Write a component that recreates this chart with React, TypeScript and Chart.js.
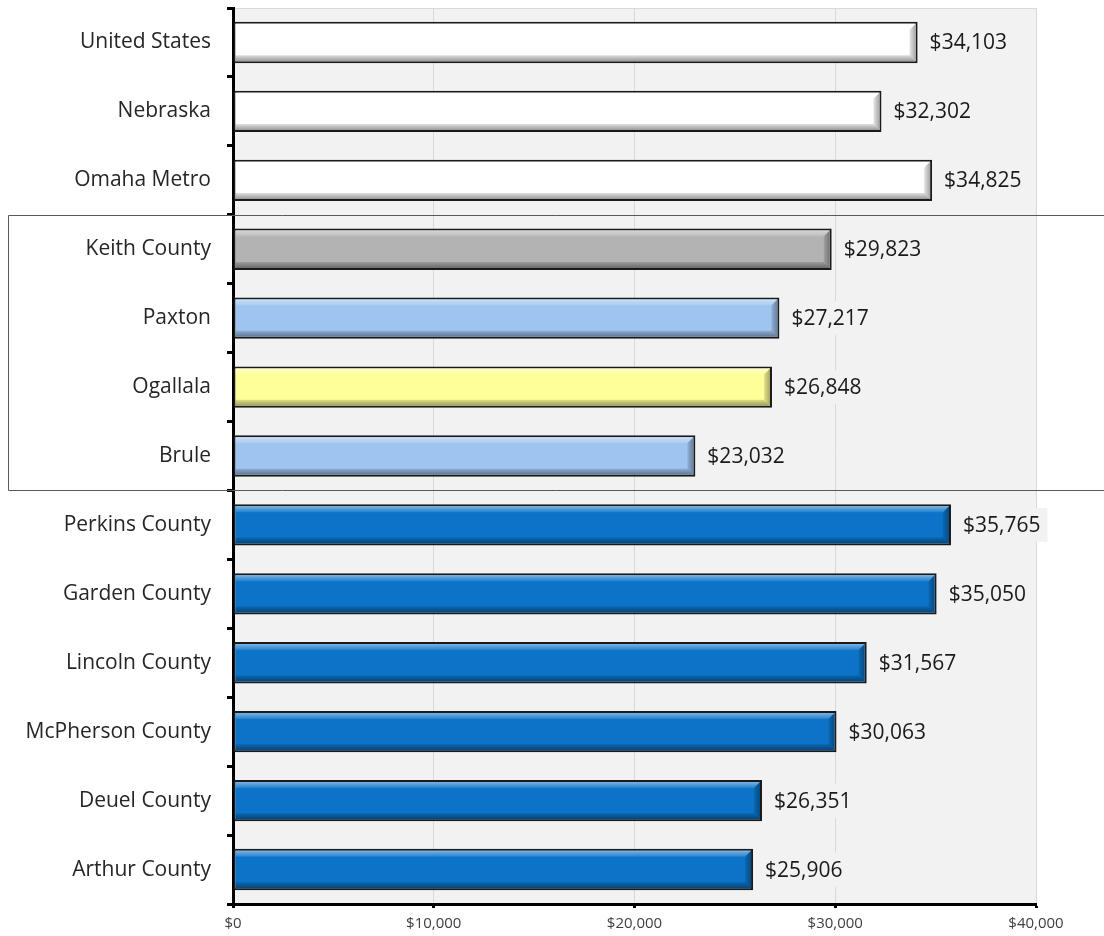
import React, { useEffect, useRef } from "react";
import { Chart, registerables } from "chart.js";

Chart.register(...registerables);

const categories = [
  "United States",
  "Nebraska",
  "Omaha Metro",
  "Keith County",
  "Paxton",
  "Ogallala",
  "Brule",
  "Perkins County",
  "Garden County",
  "Lincoln County",
  "McPherson County",
  "Deuel County",
  "Arthur County",
];

const values = [34103, 32302, 34825, 29823, 27217, 26848, 23032, 35765, 35050, 31567, 30063, 26351, 25906];

const barColors = [
  "#ffffff",
  "#ffffff",
  "#ffffff",
  "#b3b3b3",
  "#9ec4ef",
  "#ffff99",
  "#9ec4ef",
  "#0b73c8",
  "#0b73c8",
  "#0b73c8",
  "#0b73c8",
  "#0b73c8",
  "#0b73c8",
];

const xMin = 0;
const xMax = 40000;
const xStep = 10000;

const highlightFrom = "Keith County";
const highlightTo = "Brule";

const FONT = "'Open Sans', 'DejaVu Sans', sans-serif";

const money = (v: number) => "$" + Math.round(v).toLocaleString("en-US");

const backgroundPlugin = {
  id: "plotBackground",
  beforeDraw(chart: any) {
    const { ctx, chartArea } = chart;
    ctx.save();
    ctx.fillStyle = "#f2f2f2";
    ctx.fillRect(chartArea.left, chartArea.top, chartArea.right - chartArea.left, chartArea.bottom - chartArea.top);
    ctx.strokeStyle = "#d9d9d9";
    ctx.lineWidth = 1;
    ctx.beginPath();
    ctx.moveTo(chartArea.left, chartArea.top + 0.5);
    ctx.lineTo(chartArea.right + 0.5, chartArea.top + 0.5);
    ctx.lineTo(chartArea.right + 0.5, chartArea.bottom);
    ctx.stroke();
    ctx.restore();
  },
};

const bevelPlugin = {
  id: "bevelAndLabels",
  afterDatasetsDraw(chart: any) {
    const { ctx } = chart;
    const meta = chart.getDatasetMeta(0);
    ctx.save();
    meta.data.forEach((el: any, i: number) => {
      const p = el.getProps(["x", "y", "base", "height"], true);
      const bw = 2;
      const x0 = Math.min(p.base, p.x) + bw;
      const x1 = Math.max(p.base, p.x) - bw;
      const yt = p.y - p.height / 2 + bw;
      const yb = p.y + p.height / 2 - bw;
      const b = 6;
      // top highlight
      const gTop = ctx.createLinearGradient(0, yt, 0, yt + b);
      gTop.addColorStop(0, "rgba(255,255,255,0.45)");
      gTop.addColorStop(1, "rgba(255,255,255,0.1)");
      ctx.fillStyle = gTop;
      ctx.beginPath();
      ctx.moveTo(x0, yt);
      ctx.lineTo(x1, yt);
      ctx.lineTo(x1 - b, yt + b);
      ctx.lineTo(x0, yt + b);
      ctx.closePath();
      ctx.fill();
      // bottom shadow
      const gBot = ctx.createLinearGradient(0, yb - b, 0, yb);
      gBot.addColorStop(0, "rgba(0,0,0,0.12)");
      gBot.addColorStop(1, "rgba(0,0,0,0.4)");
      ctx.fillStyle = gBot;
      ctx.beginPath();
      ctx.moveTo(x0, yb);
      ctx.lineTo(x1, yb);
      ctx.lineTo(x1 - b, yb - b);
      ctx.lineTo(x0, yb - b);
      ctx.closePath();
      ctx.fill();
      // right shadow
      const gR = ctx.createLinearGradient(x1 - b, 0, x1, 0);
      gR.addColorStop(0, "rgba(0,0,0,0.1)");
      gR.addColorStop(1, "rgba(0,0,0,0.35)");
      ctx.fillStyle = gR;
      ctx.beginPath();
      ctx.moveTo(x1, yt);
      ctx.lineTo(x1, yb);
      ctx.lineTo(x1 - b, yb - b);
      ctx.lineTo(x1 - b, yt + b);
      ctx.closePath();
      ctx.fill();

      // value label
      const text = money(values[i]);
      ctx.font = `21px ${FONT}`;
      const w = ctx.measureText(text).width;
      const bx = Math.max(p.base, p.x) + 5;
      ctx.fillStyle = "#f2f2f2";
      ctx.fillRect(bx, p.y - 17, w + 14, 34);
      ctx.fillStyle = "#1a1a1a";
      ctx.textAlign = "left";
      ctx.textBaseline = "middle";
      ctx.fillText(text, bx + 7, p.y + 1);
    });
    ctx.restore();
  },
};

const boxPlugin = {
  id: "highlightBox",
  afterDraw(chart: any) {
    const { ctx } = chart;
    const y = chart.scales.y;
    const i0 = categories.indexOf(highlightFrom);
    const i1 = categories.indexOf(highlightTo);
    const half = (y.getPixelForValue(1) - y.getPixelForValue(0)) / 2;
    const top = Math.round(y.getPixelForValue(i0) - half) + 0.5;
    const bottom = Math.round(y.getPixelForValue(i1) + half) + 0.5;
    ctx.save();
    ctx.strokeStyle = "#595959";
    ctx.lineWidth = 1;
    ctx.beginPath();
    ctx.moveTo(chart.width + 2, top);
    ctx.lineTo(8.5, top);
    ctx.lineTo(8.5, bottom);
    ctx.lineTo(chart.width + 2, bottom);
    ctx.stroke();
    ctx.restore();
  },
};

export default function App() {
  const ref = useRef<HTMLCanvasElement | null>(null);

  useEffect(() => {
    if (!ref.current) return;
    const chart = new Chart(ref.current, {
      type: "bar",
      data: {
        labels: categories,
        datasets: [
          {
            data: values,
            backgroundColor: barColors,
            borderColor: "#1a1a1a",
            borderWidth: 2,
            borderSkipped: false,
            barPercentage: 0.6,
            categoryPercentage: 1,
          },
        ],
      },
      options: {
        indexAxis: "y",
        responsive: false,
        animation: false,
        layout: { padding: { top: 8, right: 68, left: 0, bottom: 0 } },
        plugins: {
          legend: { display: false },
          tooltip: { enabled: false },
        },
        scales: {
          x: {
            min: xMin,
            max: xMax,
            ticks: {
              stepSize: xStep,
              callback: (v: any) => money(Number(v)),
              font: { family: FONT, size: 15 },
              color: "#404040",
              padding: 7,
            },
            grid: {
              color: "#d9d9d9",
              lineWidth: 1,
              drawTicks: true,
              tickLength: 4,
              tickColor: "#000000",
              tickWidth: 3,
            },
            border: { display: true, color: "#000000", width: 3 },
            afterFit: (s: any) => {
              s.height = 32;
              s.paddingLeft = 0;
              s.paddingRight = 0;
            },
          },
          y: {
            ticks: {
              font: { family: FONT, size: 21 },
              color: "#262626",
              padding: 16,
            },
            grid: {
              drawOnChartArea: false,
              drawTicks: true,
              tickLength: 6,
              tickColor: "#000000",
              tickWidth: 3,
              offset: true,
            },
            border: { display: true, color: "#000000", width: 3 },
            afterFit: (s: any) => {
              s.width = 233;
              s.paddingTop = 0;
              s.paddingBottom = 0;
            },
          },
        },
      },
      plugins: [backgroundPlugin, bevelPlugin, boxPlugin],
    } as any);
    return () => chart.destroy();
  }, []);

  return (
    <div style={{ position: "absolute", left: 0, top: 0, width: 1104, height: 936 }}>
      <canvas ref={ref} width={1104} height={936} style={{ display: "block" }} />
    </div>
  );
}
